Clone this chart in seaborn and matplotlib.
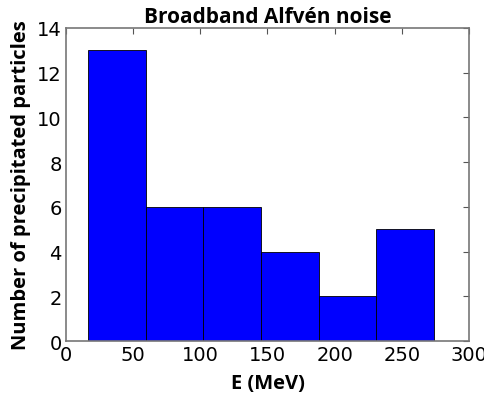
import numpy as np
import matplotlib
matplotlib.use('Agg')
import matplotlib.pyplot as plt
import seaborn as sns

# Histogram of precipitated particle energies
bin_edges = [16.4, 59.3, 102.2, 145.1, 188.0, 230.9, 273.8]
counts = [13, 6, 6, 4, 2, 5]
x_ticks = [0, 50, 100, 150, 200, 250, 300]
y_ticks = [0, 2, 4, 6, 8, 10, 12, 14]

sns.set_style('white')
plt.rcParams['font.family'] = ['DejaVu Sans']
plt.rcParams['text.color'] = 'black'
plt.rcParams['axes.labelcolor'] = 'black'

fig = plt.figure(figsize=(4.85, 4.02), dpi=100)
ax = fig.add_axes([0.136, 0.149, 0.831, 0.779])

centers = [(a + b) / 2 for a, b in zip(bin_edges[:-1], bin_edges[1:])]
sns.histplot(x=centers, weights=counts, bins=bin_edges, ax=ax,
             color='#0000ff', edgecolor='black', linewidth=0.6, alpha=1)

ax.set_xlim(0, 300)
ax.set_ylim(0, 14)
ax.set_xticks(x_ticks)
ax.set_yticks(y_ticks)
ax.tick_params(direction='in', top=True, right=True, length=4, width=0.8,
               labelsize=14, color='#555555', labelcolor='black', pad=3)
for s in ax.spines.values():
    s.set_color('#777777')
    s.set_linewidth(1.2)

lab = dict(family='Open Sans', weight='bold', size=14.5)
ax.set_title('Broadband Alfvén noise', fontdict=dict(lab, size=15), pad=4)
ax.set_xlabel('E (MeV)', fontdict=lab, labelpad=6)
ax.set_ylabel('Number of precipitated particles', fontdict=lab, labelpad=4)

fig.savefig('out.png', dpi=100)
